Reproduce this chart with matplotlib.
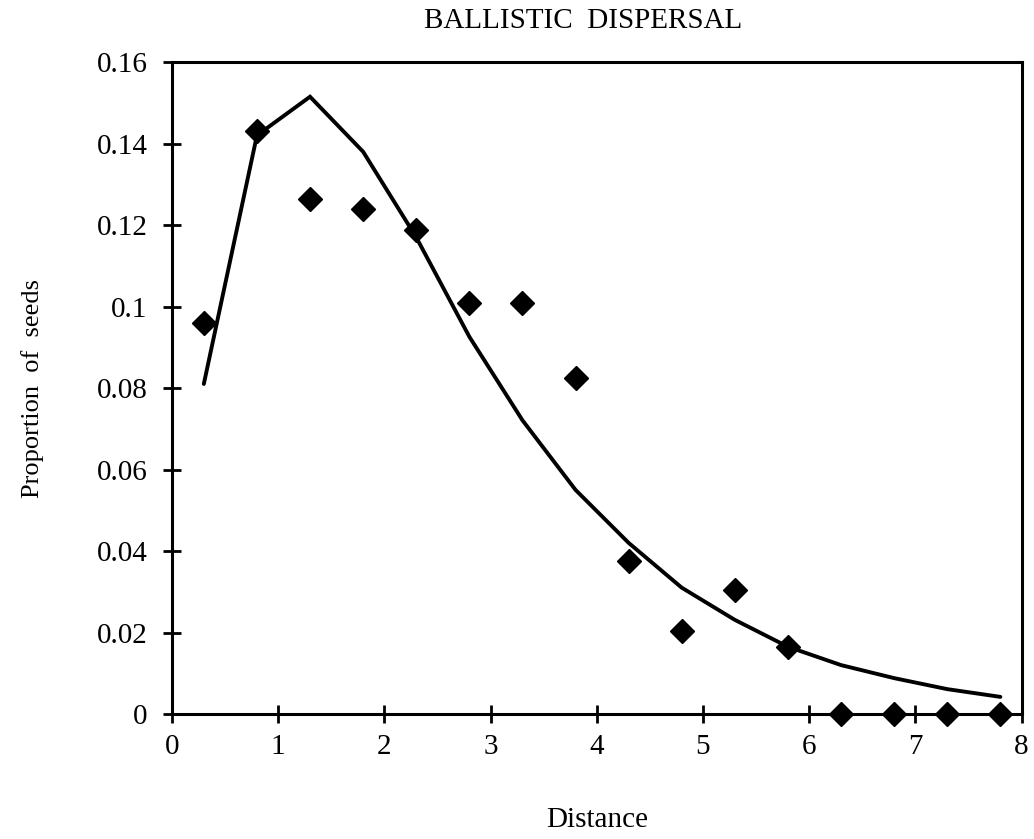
import matplotlib
matplotlib.use("Agg")
import matplotlib.pyplot as plt

# Observed proportions of seeds by distance class
distance = [0.3, 0.8, 1.3, 1.8, 2.3, 2.8, 3.3, 3.8, 4.3, 4.8, 5.3, 5.8, 6.3, 6.8, 7.3, 7.8]
observed = [0.096, 0.143, 0.1265, 0.124, 0.1188, 0.1009, 0.1009, 0.0825,
            0.0376, 0.0204, 0.0304, 0.0165, 0.0, 0.0, 0.0, 0.0]
# Fitted dispersal curve at the same distances
fitted = [0.081, 0.142, 0.1515, 0.138, 0.117, 0.0926, 0.0721, 0.055,
          0.042, 0.031, 0.0231, 0.0165, 0.012, 0.0088, 0.0061, 0.0042]

x_ticks = [0, 1, 2, 3, 4, 5, 6, 7, 8]
y_ticks = [0, 0.02, 0.04, 0.06, 0.08, 0.1, 0.12, 0.14, 0.16]
y_tick_labels = ["0", "0.02", "0.04", "0.06", "0.08", "0.1", "0.12", "0.14", "0.16"]

plt.rcParams["font.family"] = ["Liberation Serif", "DejaVu Serif"]

fig = plt.figure(figsize=(10.34, 8.39), dpi=100)
ax = fig.add_axes([0.1663, 0.149, 0.8217, 0.777])

ax.plot(distance, fitted, color="black", linewidth=2.8, solid_capstyle="round",
        solid_joinstyle="miter", zorder=2)
ax.plot(distance, observed, linestyle="none", marker="D", markersize=12.5,
        color="black", clip_on=False, zorder=3)

ax.set_xlim(0, 8)
ax.set_ylim(0, 0.16)
ax.set_xticks(x_ticks)
ax.set_xticklabels([str(t) for t in x_ticks])
ax.set_yticks(y_ticks)
ax.set_yticklabels(y_tick_labels)

for side in ["left", "bottom", "top", "right"]:
    ax.spines[side].set_linewidth(2.2)
ax.tick_params(axis="both", direction="inout", length=13, width=2.0,
               labelsize=21, colors="black")
ax.tick_params(axis="x", pad=8)
ax.tick_params(axis="y", pad=11)

ax.set_xlabel("Distance", fontsize=21, labelpad=34)
ax.set_ylabel("Proportion  of  seeds", fontsize=19, labelpad=38)
fig.text(0.564, 0.975, "BALLISTIC  DISPERSAL", fontsize=21,
         ha="center", va="center")

fig.savefig("out.png", dpi=100)
